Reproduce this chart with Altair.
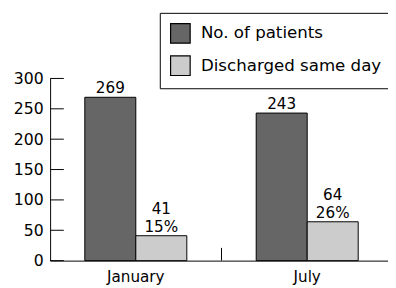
import altair as alt
import pandas as pd

months = ["January", "January", "July", "July"]
series = ["No. of patients", "Discharged same day", "No. of patients", "Discharged same day"]
values = [269, 41, 243, 64]
percents = [None, 15, None, 26]
series_order = ["No. of patients", "Discharged same day"]
month_order = ["January", "July"]
y_ticks = [0, 50, 100, 150, 200, 250, 300]

df = pd.DataFrame({"month": months, "series": series, "value": values, "pct": percents})
df["count_label"] = df["value"].astype(str)
df["pct_label"] = df["pct"].apply(lambda p: "" if pd.isna(p) else f"{int(p)}%")
df["has_pct"] = df["pct"].notna()
ticks_df = pd.DataFrame({"t": y_ticks})
div_df = pd.DataFrame({"month": ["July"]})

FONT = "DejaVu Sans"
W, H = 350, 186

x_enc = alt.X("month:N", sort=month_order, scale=alt.Scale(paddingInner=0, paddingOuter=0),
              axis=alt.Axis(title=None, ticks=False, labelFontSize=15.5, labelPadding=9, labelColor="black",
                            domainColor="black", labelFont=FONT, labelAngle=0))
xo_enc = alt.XOffset("series:N", sort=series_order, scale=alt.Scale(paddingOuter=0.68, paddingInner=0))
y_axis = alt.Axis(title=None, ticks=False, values=y_ticks, labelFontSize=16, labelPadding=7,
                  labelColor="black", domainColor="black", grid=False, labelFont=FONT, labelOverlap=False)
y_enc = alt.Y("value:Q", scale=alt.Scale(domain=[0, 300], nice=False), axis=y_axis)

bars = alt.Chart(df).mark_bar(stroke="black", strokeWidth=1).encode(
    x=x_enc, xOffset=xo_enc, y=y_enc,
    color=alt.Color("series:N", sort=series_order,
                    scale=alt.Scale(domain=series_order, range=["#666666", "#cccccc"]),
                    legend=alt.Legend(title=None, orient="none", legendX=112, legendY=-67,
                                      symbolType="square", symbolSize=400, symbolStrokeColor="black",
                                      symbolStrokeWidth=1.2, symbolOpacity=1, labelFontSize=17,
                                      labelFont=FONT, labelColor="black", labelOffset=10, rowPadding=7,
                                      padding=10, strokeColor="black", fillColor="white",
                                      labelLimit=400)),
)

txt = dict(baseline="alphabetic", fontSize=15.5, font=FONT, color="black")
enc = dict(x=alt.X("month:N", sort=month_order), xOffset=alt.XOffset("series:N", sort=series_order),
           y=alt.Y("value:Q", axis=y_axis))

count_plain = alt.Chart(df).transform_filter("!datum.has_pct").mark_text(dy=-4, **txt).encode(
    text="count_label:N", **enc)
pct_text = alt.Chart(df).transform_filter("datum.has_pct").mark_text(dy=-4, **txt).encode(
    text="pct_label:N", **enc)
count_top = alt.Chart(df).transform_filter("datum.has_pct").mark_text(dy=-22, **txt).encode(
    text="count_label:N", **enc)

yticks = alt.Chart(ticks_df).mark_rule(color="black", strokeWidth=1).encode(
    y=alt.Y("t:Q", axis=y_axis), x=alt.value(0), x2=alt.value(14))

divider = alt.Chart(div_df).mark_rule(color="black", strokeWidth=1).encode(
    x=alt.X("month:N", sort=month_order, bandPosition=0), y=alt.value(H), y2=alt.value(H - 13))

chart = alt.layer(bars, count_plain, pct_text, count_top, yticks, divider).properties(
    width=W, height=H,
    autosize=alt.AutoSizeParams(type="none"),
    padding={"left": 43, "top": 69, "right": -5, "bottom": 25},
).configure_view(stroke=None).configure_axis(domainWidth=1)

chart.save("out.html", embed_options={"renderer": "svg", "actions": False})
